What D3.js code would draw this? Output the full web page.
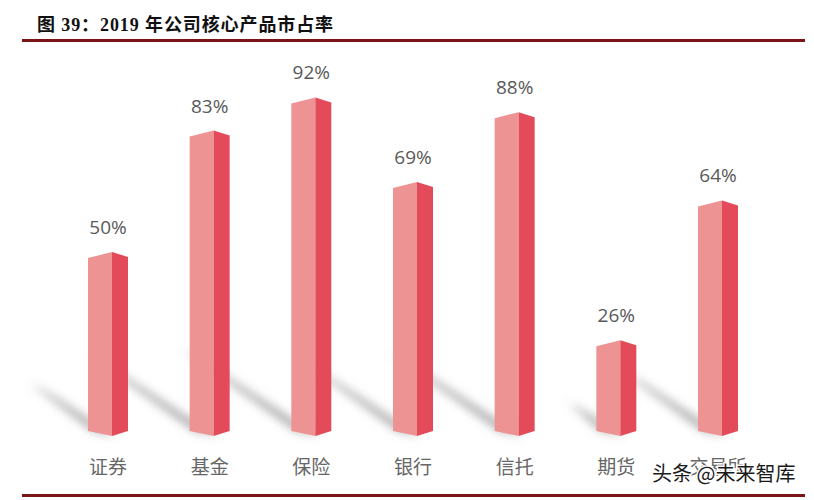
<!DOCTYPE html>
<html><head><meta charset="utf-8">
<script src="https://cdn.jsdelivr.net/npm/d3@7"></script>
<style>body{margin:0;background:#fff}svg{display:block}</style>
</head><body>
<svg id="c" width="814" height="500"></svg>
<script>
const title = "图 39：2019 年公司核心产品市占率";
const categories = ["证券","基金","保险","银行","信托","期货","交易所"];
const values = [50,83,92,69,88,26,64];
const valueLabels = ["50%","83%","92%","69%","88%","26%","64%"];
const watermark = "头条 @未来智库";

const svg = d3.select("#c");
const defs = svg.append("defs");
defs.append("filter").attr("id","blur").attr("x","-50%").attr("y","-50%").attr("width","200%").attr("height","200%")
  .append("feGaussianBlur").attr("stdDeviation",5);

// title
svg.append("text").attr("x",37).attr("y",31)
  .attr("font-family","'Liberation Serif','Noto Sans CJK SC'").attr("font-weight","bold")
  .attr("font-size",18).attr("letter-spacing",0.9).attr("fill","#111").text(title);
svg.append("line").attr("x1",22).attr("x2",805).attr("y1",40.5).attr("y2",40.5)
  .attr("stroke","#7a1517").attr("stroke-width",3);
svg.append("line").attr("x1",22).attr("x2",805).attr("y1",495.5).attr("y2",495.5)
  .attr("stroke","#7a1517").attr("stroke-width",3);

const x = d3.scalePoint().domain(categories).range([112,722]);
const y = d3.scaleLinear().domain([0,100]).range([436,68]);

const LW = 24, RW = 16;
const data = categories.map((c,i)=>({c, v:values[i], lab:valueLabels[i]}));

// shadows
const sh = svg.append("g").attr("filter","url(#blur)");
data.forEach(d=>{
  const e = x(d.c), L = (y(0)-y(d.v))*0.4;
  const dx = -0.85*L, dy = -0.55*L;
  const p = [[e-LW+4,431],[e+4,436],[e+4+dx,436+dy],[e-LW+4+dx,431+dy-8]];
  sh.append("polygon").attr("points",p.map(q=>q.join(",")).join(" "))
    .attr("fill","#808080").attr("opacity",0.65);
});

// bars
const g = svg.append("g");
data.forEach(d=>{
  const e = x(d.c), t = y(d.v), b = y(0);
  g.append("polygon").attr("fill","#ee9393")
    .attr("points",[[e-LW,t+6],[e,t],[e,b],[e-LW,b-5]].map(q=>q.join(",")).join(" "));
  g.append("polygon").attr("fill","#e34b5b")
    .attr("points",[[e,t],[e+RW,t+5],[e+RW,b-5],[e,b]].map(q=>q.join(",")).join(" "));
  svg.append("text").attr("x",e-4).attr("y",t-18).attr("text-anchor","middle")
    .attr("font-family","'Open Sans','Noto Sans',sans-serif").attr("font-size",19)
    .attr("fill","#595959").text(d.lab);
  svg.append("text").attr("x",e-4).attr("y",474).attr("text-anchor","middle")
    .attr("font-family","'Noto Sans CJK SC'").attr("font-size",19)
    .attr("fill","#666").text(d.c);
});

svg.append("text").attr("x",652).attr("y",481)
  .attr("font-family","'Noto Sans CJK SC'").attr("font-size",20)
  .attr("fill","#1a1a1a").attr("stroke","#fff").attr("stroke-width",3)
  .attr("paint-order","stroke").text(watermark);
</script>
</body></html>
